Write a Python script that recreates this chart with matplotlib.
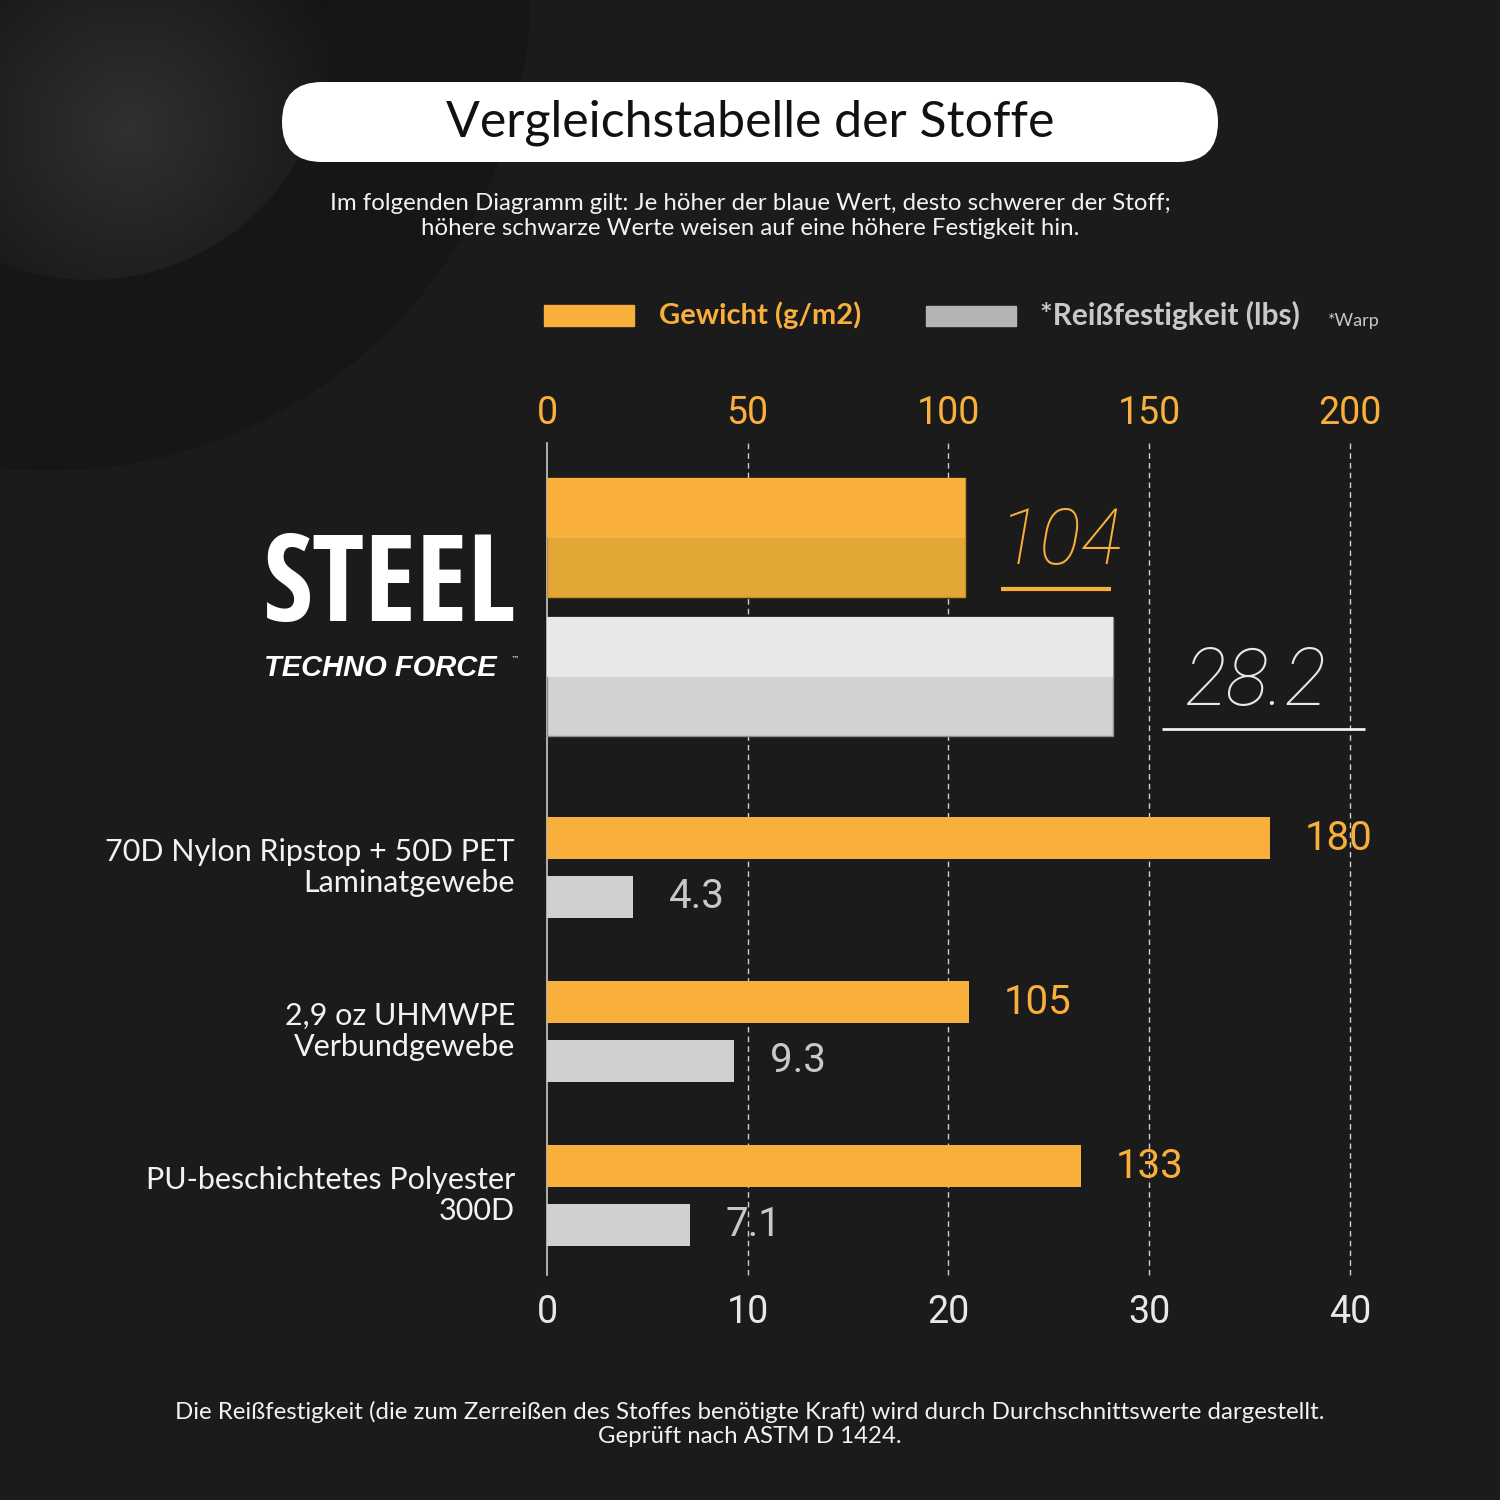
import numpy as np
import matplotlib
matplotlib.use("Agg")
import matplotlib.pyplot as plt
from matplotlib.patches import Rectangle, FancyBboxPatch, Circle

# ---------------- data ----------------
categories = ["STEEL TECHNO FORCE",
              "70D Nylon Ripstop + 50D PET\nLaminatgewebe",
              "2,9 oz UHMWPE\nVerbundgewebe",
              "PU-beschichtetes Polyester\n300D"]
weight_gsm = [104, 180, 105, 133]          # Gewicht (g/m2)
tear_lbs = [28.2, 4.3, 9.3, 7.1]           # Reißfestigkeit (lbs)
weight_ticks = [0, 50, 100, 150, 200]
tear_ticks = [0, 10, 20, 30, 40]

title = "Vergleichstabelle der Stoffe"
subtitle = ("Im folgenden Diagramm gilt: Je höher der blaue Wert, desto schwerer der Stoff;\n"
            "höhere schwarze Werte weisen auf eine höhere Festigkeit hin.")
footer = ("Die Reißfestigkeit (die zum Zerreißen des Stoffes benötigte Kraft) wird durch Durchschnittswerte dargestellt.\n"
          "Geprüft nach ASTM D 1424.")
legend_weight = "Gewicht (g/m2)"
legend_tear = "*Reißfestigkeit (lbs)"
legend_note = "*Warp"

# ---------------- style ----------------
BG = "#1b1b1b"
ORANGE = "#F9AF3B"
ORANGE_DARK = "#E1A835"
GRAY = "#D0D0D0"
GRAY_TOP = "#E8E8E8"
GRAY_BOT = "#D2D2D2"
TXT = "#F2F2F2"
SANS = ["Lato", "DejaVu Sans"]
NUM = ["Roboto", "DejaVu Sans"]

W = H = 1500
fig = plt.figure(figsize=(15, 15), dpi=100, facecolor=BG)

# background / decoration axes in pixel coordinates
bg = fig.add_axes([0, 0, 1, 1], zorder=0)
bg.set_xlim(0, W)
bg.set_ylim(H, 0)
bg.axis("off")
bg.add_patch(Rectangle((0, 0), W, H, color=BG, zorder=0))
bg.add_patch(Circle((50, -10), 480, color="#151717", zorder=1))
# shaded sphere
sphere = Circle((90, 40), 240, transform=bg.transData)
yy, xx = np.mgrid[0:400, 0:400]
d = np.hypot(xx - 130, yy - 130) / 260.0
shade = np.clip(0.19 - 0.12 * d, 0.075, 0.20)
img = bg.imshow(np.dstack([shade, shade, shade * 1.02]).clip(0, 1), extent=(0, 400, 400, 0),
                zorder=2, interpolation="bilinear")
img.set_clip_path(sphere)
bg.set_xlim(0, W)
bg.set_ylim(H, 0)

# title box
bg.add_patch(FancyBboxPatch((282, 82), 936, 80,
                            boxstyle="round,pad=0,rounding_size=40",
                            fc="white", ec="none", zorder=3))
bg.text(750, 123, title, ha="center", va="center", fontsize=36, color="#111111",
        family=SANS, zorder=4)
bg.text(750, 216, subtitle, ha="center", va="center", fontsize=17.3, color=TXT,
        family=SANS, linespacing=1.2, zorder=4)

# legend
bg.add_patch(Rectangle((544, 305), 90, 21, color=ORANGE, zorder=3))
bg.text(659, 315, legend_weight, ha="left", va="center", fontsize=21, color=ORANGE,
        fontweight="bold", family=SANS, zorder=4)
bg.add_patch(Rectangle((926, 306), 90, 20, color="#B4B4B4", zorder=3))
bg.text(1040, 315, legend_tear, ha="left", va="center", fontsize=21.5, color="#C8C8C8",
        fontweight="bold", family=SANS, zorder=4)
bg.text(1328, 321, legend_note, ha="left", va="center", fontsize=13, color="#C8C8C8",
        family=SANS, zorder=4)

# footer
bg.text(750, 1424, footer, ha="center", va="center", fontsize=17.3, color=TXT,
        family=SANS, linespacing=1.2, zorder=4)

# logo (text)
bg.text(390, 650, "STEEL", ha="center", va="bottom", fontsize=87, color="white",
        fontweight="black", fontstretch="condensed",
        family=["Open Sans Condensed", "Roboto Condensed", "Roboto", "DejaVu Sans"], zorder=4)
bg.text(380, 668, "TECHNO FORCE", ha="center", va="center", fontsize=21, color="white",
        fontweight="bold", fontstyle="italic", family=["Liberation Sans", "DejaVu Sans"], zorder=4)
bg.text(511, 659, "™", ha="left", va="center", fontsize=6, color="white", zorder=4)

# ---------------- chart axes ----------------
AX_L, AX_R, AX_T, AX_B = 547, 1350, 443, 1275
ax = fig.add_axes([AX_L / W, 1 - AX_B / H, (AX_R - AX_L) / W, (AX_B - AX_T) / H], zorder=2)
ax.patch.set_visible(False)
ax.set_xlim(0, 200)
ax.set_ylim(AX_B - AX_T, 0)
ax2 = ax.twiny()
ax2.patch.set_visible(False)
ax2.set_xlim(0, 40)

# layout (vertical positions in pixels from axes top)
big = [True, False, False, False]
orange_top = [35, 374, 538, 702]
bar_h = [119 if b else 42 for b in big]
pair_gap = [20 if b else 17 for b in big]
gray_top = [t + h + g for t, h, g in zip(orange_top, bar_h, pair_gap)]

for i in range(len(categories)):
    if big[i]:
        ax.barh(orange_top[i], weight_gsm[i], height=bar_h[i], align="edge",
                color=ORANGE_DARK, edgecolor="#c98f27", linewidth=1, zorder=3)
        ax.barh(orange_top[i], weight_gsm[i], height=bar_h[i] / 2, align="edge",
                color=ORANGE, edgecolor="none", zorder=3)
        ax2.barh(gray_top[i], tear_lbs[i], height=bar_h[i], align="edge",
                 color=GRAY_BOT, edgecolor="#8e8e8e", linewidth=1, zorder=3)
        ax2.barh(gray_top[i], tear_lbs[i], height=bar_h[i] / 2, align="edge",
                 color=GRAY_TOP, edgecolor="none", zorder=3)
    else:
        ax.barh(orange_top[i], weight_gsm[i], height=bar_h[i], align="edge",
                color=ORANGE, edgecolor="none", zorder=3)
        ax2.barh(gray_top[i], tear_lbs[i], height=bar_h[i], align="edge",
                 color=GRAY, edgecolor="none", zorder=3)

# value labels
px_w = 200 / (AX_R - AX_L)
px_t = 40 / (AX_R - AX_L)
for i in range(len(categories)):
    oc = orange_top[i] + bar_h[i] / 2
    gc = gray_top[i] + bar_h[i] / 2
    if big[i]:
        ax.text(weight_gsm[i] + 34 * px_w, oc + 6, f"{weight_gsm[i]}", ha="left", va="center",
                fontsize=56, color=ORANGE, fontstyle="italic", fontweight="light",
                family=NUM, zorder=5)
        ax.plot([weight_gsm[i] + 36 * px_w, weight_gsm[i] + 146 * px_w], [oc + 51, oc + 51],
                color=ORANGE, lw=3, solid_capstyle="butt", zorder=5)
        ax2.text(tear_lbs[i] + 72 * px_t, gc + 7, f"{tear_lbs[i]}", ha="left", va="center",
                 fontsize=57, color="#E8E8E8", fontstyle="italic", fontweight="light",
                 family=NUM, zorder=5)
        ax2.plot([tear_lbs[i] + 49 * px_t, tear_lbs[i] + 252 * px_t], [gc + 52, gc + 52],
                 color="#F0F0F0", lw=2, solid_capstyle="butt", zorder=5, clip_on=False)
    else:
        ax.annotate(f"{weight_gsm[i]}", xy=(weight_gsm[i], oc), xytext=(25, 0),
                    textcoords="offset points", ha="left", va="center", fontsize=29,
                    color=ORANGE, family=NUM, zorder=5)
        ax2.annotate(f"{tear_lbs[i]}", xy=(tear_lbs[i], gc), xytext=(26, 0),
                     textcoords="offset points", ha="left", va="center", fontsize=29,
                     color="#C8C8C8", family=NUM, zorder=5)
        ax.text(-32 * px_w, (orange_top[i] + gray_top[i] + bar_h[i]) / 2, categories[i],
                ha="right", va="center", multialignment="right", fontsize=22, color=TXT,
                family=SANS, linespacing=1.15, zorder=5)

# grid, spines, ticks
for t in weight_ticks[1:]:
    ax.axvline(t, color="#CFCFCF", lw=1, ls=(0, (4, 3)), zorder=1, clip_on=False)
for a in (ax, ax2):
    for s in a.spines.values():
        s.set_visible(False)
    a.set_yticks([])
ax.spines["left"].set_visible(True)
ax.spines["left"].set_color("#C8C8C8")
ax.spines["left"].set_linewidth(1.2)

ax.xaxis.tick_top()
ax.set_xticks(weight_ticks)
ax.tick_params(axis="x", length=0, pad=8, labelsize=27, labelcolor=ORANGE)
ax2.xaxis.tick_bottom()
ax2.set_xticks(tear_ticks)
ax2.tick_params(axis="x", length=0, pad=14, labelsize=27, labelcolor="#E8E8E8")
for lab in ax.get_xticklabels() + ax2.get_xticklabels():
    lab.set_family(NUM)

fig.savefig("out.png", dpi=100, facecolor=BG)
